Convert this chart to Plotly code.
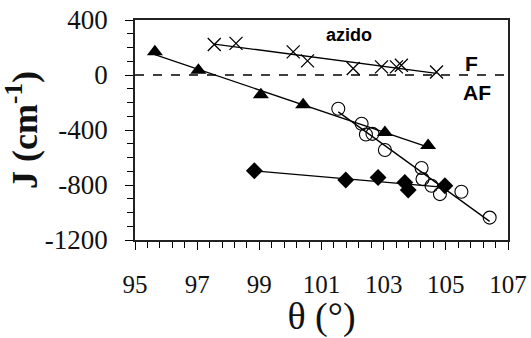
import numpy as np
import plotly.graph_objects as go

# azido (crosses)
azido_theta = [97.55, 98.25, 100.09, 100.55, 102.02, 102.93, 103.41, 103.57, 104.70]
azido_J = [222, 230, 168, 103, 47, 59, 59, 71, 22]
# filled triangles
tri_theta = [95.64, 97.04, 99.05, 100.41, 103.04, 104.43]
tri_J = [170, 35, -143, -216, -419, -513]
# open circles
circ_theta = [101.54, 102.29, 102.43, 102.64, 103.04, 104.22, 104.25, 104.54, 104.81, 105.50, 106.41]
circ_J = [-245, -355, -433, -428, -545, -676, -757, -805, -866, -849, -1037]
# filled diamonds
dia_theta = [98.84, 101.78, 102.82, 103.68, 103.79, 104.97]
dia_J = [-696, -764, -745, -781, -837, -805]

x_ticks = [95, 97, 99, 101, 103, 105, 107]
x_labels = ["95", "97", "99", "101", "103", "105", "107"]
y_ticks = [-1200, -800, -400, 0, 400]
y_labels = ["-1200", "-800", "-400", "0", "400"]

fig = go.Figure()

def add_series(xs, ys, marker):
    xs = np.array(xs, float); ys = np.array(ys, float)
    k, b = np.polyfit(xs, ys, 1)
    xl = np.array([xs.min(), xs.max()])
    fig.add_trace(go.Scatter(x=xl, y=k * xl + b, mode="lines",
                             line=dict(color="black", width=1.3), showlegend=False, hoverinfo="skip"))
    fig.add_trace(go.Scatter(x=xs, y=ys, mode="markers", marker=marker, showlegend=False))

add_series(azido_theta, azido_J, dict(symbol="x-thin-open", size=13, color="black", line=dict(color="black", width=1.3)))
add_series(tri_theta, tri_J, dict(symbol="triangle-up", size=14, color="black"))
add_series(circ_theta, circ_J, dict(symbol="circle-open", size=13, color="black", line=dict(color="black", width=1.1)))
add_series(dia_theta, dia_J, dict(symbol="diamond", size=13, color="black"))

fig.add_hline(y=0, line=dict(color="black", width=1.3, dash="dash"))

ann_font = dict(family="Liberation Sans, Arial", color="black")
fig.add_annotation(x=101.9, y=290, text="<b>azido</b>", showarrow=False, font=dict(size=18, **ann_font))
fig.add_annotation(x=105.84, y=86, text="<b>F</b>", showarrow=False, font=dict(size=21, **ann_font))
fig.add_annotation(x=106.0, y=-126, text="<b>AF</b>", showarrow=False, font=dict(size=21, **ann_font))

serif = "Liberation Serif, Times New Roman"
fig.update_xaxes(range=[95, 107], tickvals=x_ticks, ticktext=x_labels, ticks="outside", ticklen=8, tickwidth=1.3,
                 tickcolor="black", showline=True, linecolor="#222", linewidth=1.6, mirror=True,
                 showgrid=False, zeroline=False, automargin=False, ticklabelstandoff=13,
                 minor=dict(tick0=95, dtick=0.4, ticks="outside", ticklen=6, tickcolor="black", tickwidth=1),
                 tickfont=dict(family=serif, size=25, color="#111"),
                 title=dict(text="θ (°)", font=dict(family=serif, size=38, color="#111"), standoff=8))
fig.update_yaxes(range=[-1200, 400], tickvals=y_ticks, ticktext=y_labels, ticks="outside", ticklen=8, tickwidth=1.3,
                 tickcolor="black", showline=True, linecolor="#222", linewidth=1.6, mirror=True,
                 showgrid=False, zeroline=False, automargin=False, ticklabelstandoff=12,
                 minor=dict(tick0=-1200, dtick=100, ticks="outside", ticklen=6, tickcolor="black", tickwidth=1),
                 tickfont=dict(family=serif, size=27, color="#111"),
                 title=dict(text="<b>J (cm<sup>-1</sup>)</b>", font=dict(family=serif, size=36, color="#111"), standoff=6))

fig.update_layout(width=531, height=338, margin=dict(l=135, r=23, t=20, b=98),
                  plot_bgcolor="white", paper_bgcolor="white")
# remove the default 8px page margin so the figure fills the 531x338 window exactly; hide the toolbar
fig.write_html("out.html", config={"displayModeBar": False},
               post_script="document.body.style.margin='0px';")
